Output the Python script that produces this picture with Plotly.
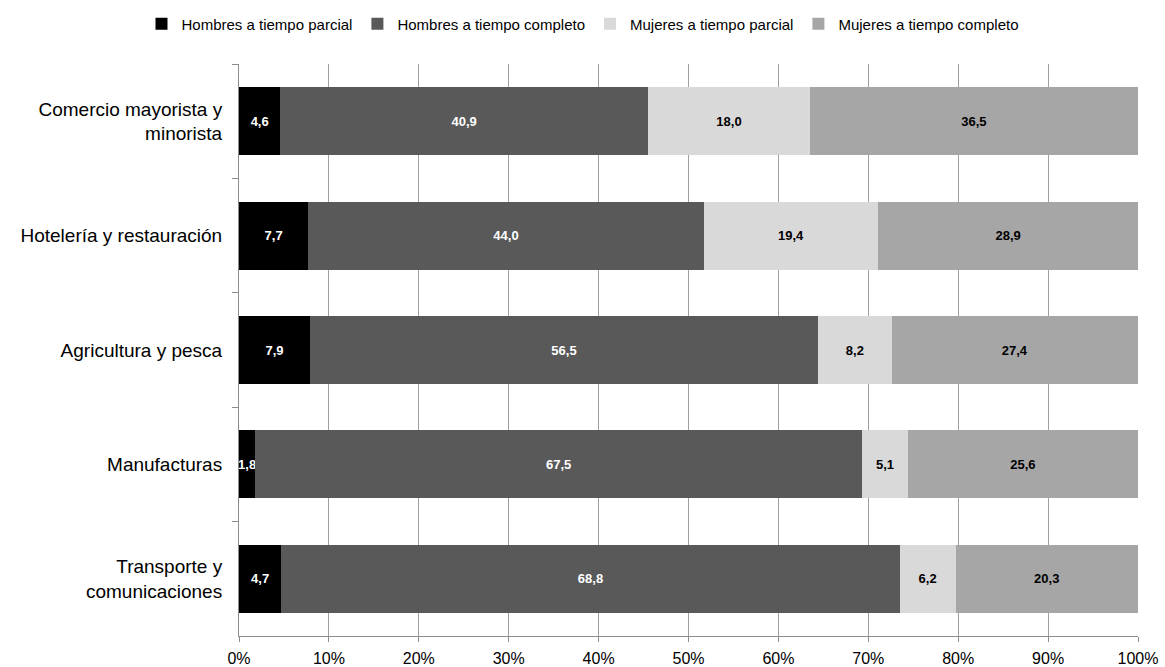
import plotly.graph_objects as go

categories = ["Comercio mayorista y<br>minorista", "Hotelería y restauración", "Agricultura y pesca",
              "Manufacturas", "Transporte y<br>comunicaciones"]
series_names = ["Hombres a tiempo parcial", "Hombres a tiempo completo",
                "Mujeres a tiempo parcial", "Mujeres a tiempo completo"]
hombres_parcial = [4.6, 7.7, 7.9, 1.8, 4.7]
hombres_completo = [40.9, 44.0, 56.5, 67.5, 68.8]
mujeres_parcial = [18.0, 19.4, 8.2, 5.1, 6.2]
mujeres_completo = [36.5, 28.9, 27.4, 25.6, 20.3]
x_ticks = [0, 10, 20, 30, 40, 50, 60, 70, 80, 90, 100]

series_values = [hombres_parcial, hombres_completo, mujeres_parcial, mujeres_completo]
colors = ["#000000", "#595959", "#d9d9d9", "#a6a6a6"]
text_colors = ["#ffffff", "#ffffff", "#000000", "#000000"]

FONT = "Liberation Sans, Arial"

fig = go.Figure()
for name, vals, c, tc in zip(series_names, series_values, colors, text_colors):
    fig.add_trace(go.Bar(
        y=categories, x=vals, name=name, orientation="h",
        marker=dict(color=c, line=dict(width=0)),
        text=[f"{v:.1f}".replace(".", ",") for v in vals],
        textposition="inside", insidetextanchor="middle", textangle=0,
        constraintext="none",
        textfont=dict(color=tc, size=13, family=FONT, weight="bold"),
        hoverinfo="skip",
    ))

fig.update_layout(
    barmode="stack",
    bargap=0.405,
    width=1165, height=667,
    margin=dict(l=239, r=27, t=64, b=31, autoexpand=False),
    paper_bgcolor="white", plot_bgcolor="white",
    font=dict(family=FONT, size=17, color="#000000"),
    uniformtext=dict(minsize=13, mode="show"),
    legend=dict(orientation="h", xref="container", yref="container",
                x=0.5, xanchor="center", y=0.964, yanchor="middle",
                font=dict(size=15), itemwidth=30, traceorder="normal"),
    showlegend=True,
)
fig.update_xaxes(
    range=[0, 100], tickvals=x_ticks, ticktext=[f"{t}%" for t in x_ticks],
    showgrid=True, gridcolor="#a0a0a0", gridwidth=1,
    showline=True, linecolor="#8c8c8c", linewidth=1,
    ticks="outside", ticklen=5, tickcolor="#8c8c8c",
    zeroline=False, tickfont=dict(size=16), ticklabelstandoff=3,
)
fig.update_yaxes(
    autorange="reversed", type="category",
    showline=True, linecolor="#8c8c8c", linewidth=1,
    ticks="outside", ticklen=6, tickcolor="#8c8c8c", tickson="boundaries",
    showgrid=False, tickfont=dict(size=19), ticklabelstandoff=12,
)

fig.write_html("out.html")
